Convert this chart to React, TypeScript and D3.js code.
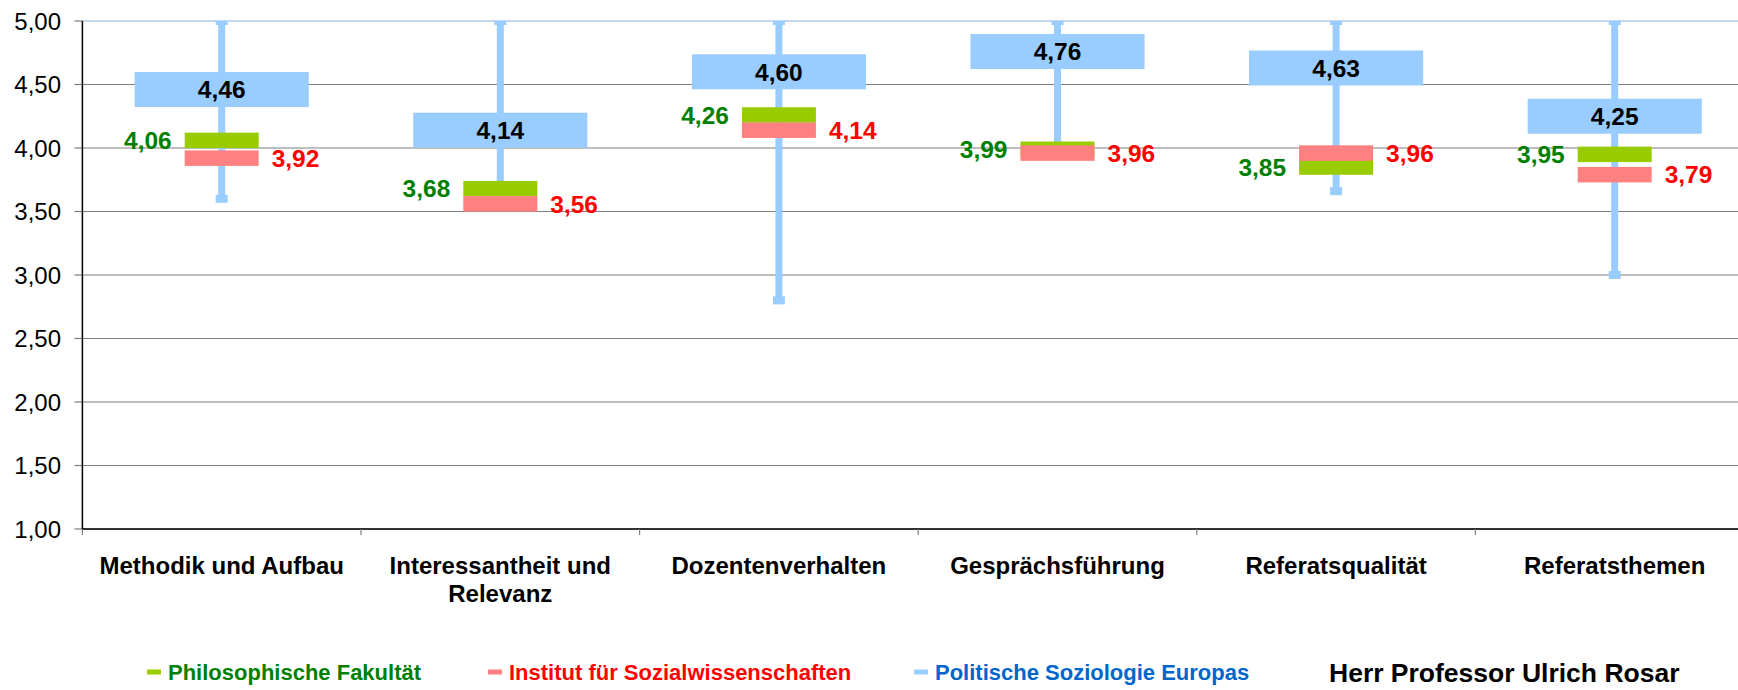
import React from 'react';
import * as d3 from 'd3';

const categories: string[][] = [
  ['Methodik und Aufbau'],
  ['Interessantheit und', 'Relevanz'],
  ['Dozentenverhalten'],
  ['Gesprächsführung'],
  ['Referatsqualität'],
  ['Referatsthemen'],
];
const philFak = [4.06, 3.68, 4.26, 3.99, 3.85, 3.95];
const institut = [3.92, 3.56, 4.14, 3.96, 3.96, 3.79];
const polSoz = [4.46, 4.14, 4.6, 4.76, 4.63, 4.25];
const polSozMax = [5.0, 5.0, 5.0, 5.0, 5.0, 5.0];
const polSozMin = [3.6, 3.7, 2.8, 4.0, 3.66, 3.0];
const yTicks = [1.0, 1.5, 2.0, 2.5, 3.0, 3.5, 4.0, 4.5, 5.0];
const legendLabels = ['Philosophische Fakultät', 'Institut für Sozialwissenschaften', 'Politische Soziologie Europas'];
const subtitle = 'Herr Professor Ulrich Rosar';

const W = 1738;
const H = 690;
const M = { left: 82.4, top: 21, bottom: 529, right: 1754 };

const C = {
  green: '#99CC00',
  greenText: '#008000',
  red: '#FF8080',
  redText: '#FF0000',
  blue: '#99CCFF',
  blueText: '#0066CC',
  grid: '#7f7f7f',
};

const locale = d3.formatLocale({ decimal: ',', thousands: '.', grouping: [3], currency: ['', '€'] });
const fmt = locale.format('.2f');
const FONT = '"Liberation Sans", Arial, sans-serif';

export default function App() {
  const idx = categories.map((_, i) => i);
  const x = d3.scaleBand<number>().domain(idx).range([M.left, M.right]).padding(0);
  const y = d3.scaleLinear().domain([1, 5]).range([M.bottom, M.top]);
  const cx = (i: number) => (x(i) as number) + x.bandwidth() / 2;

  const blueW = x.bandwidth() * 0.625;
  const blueH = 35;
  const smallW = 74;
  const smallH = 15.5;
  const whiskW = 7;
  const capW = 12;
  const capH = 8;

  const legendX = [147, 488, 914];
  const legendY = 672;

  return (
    <svg width={W} height={H} style={{ position: 'absolute', left: 0, top: 0, background: '#fff' }} fontFamily={FONT}>
      <defs>
        <clipPath id="plot">
          <rect x={M.left} y={M.top} width={M.right - M.left} height={M.bottom - M.top} />
        </clipPath>
      </defs>
      {/* gridlines */}
      {yTicks.map((t) => (
        <line
          key={'g' + t}
          x1={M.left}
          x2={M.right}
          y1={y(t)}
          y2={y(t)}
          stroke={t === 5 ? '#c6d6ee' : C.grid}
          strokeWidth={t === 5 ? 2 : 1.2}
        />
      ))}
      {/* y ticks */}
      {yTicks.map((t) => (
        <g key={'t' + t}>
          <line x1={M.left - 8} x2={M.left} y1={y(t)} y2={y(t)} stroke={C.grid} strokeWidth={1.2} />
          <text x={61} y={y(t)} dy="0.36em" textAnchor="end" fontSize={24} fill="#000">
            {fmt(t)}
          </text>
        </g>
      ))}
      {/* axes */}
      <line x1={M.left} x2={M.left} y1={M.top} y2={M.bottom} stroke="#000" strokeWidth={1.5} />
      <line x1={M.left} x2={M.right} y1={M.bottom} y2={M.bottom} stroke="#000" strokeWidth={1.5} />
      {idx.concat([idx.length]).map((i) => {
        const xx = i < idx.length ? (x(i) as number) : M.right;
        return <line key={'xt' + i} x1={xx} x2={xx} y1={M.bottom} y2={M.bottom + 6} stroke={C.grid} strokeWidth={1.2} />;
      })}
      {/* x labels */}
      {categories.map((lines, i) => (
        <text key={'xl' + i} x={cx(i)} y={574} textAnchor="middle" fontSize={24} fontWeight="bold" fill="#000">
          {lines.map((l, j) => (
            <tspan key={j} x={cx(i)} dy={j === 0 ? 0 : 28}>
              {l}
            </tspan>
          ))}
        </text>
      ))}
      {/* marks */}
      <g clipPath="url(#plot)">
        {idx.map((i) => (
          <g key={'m' + i}>
            <rect x={cx(i) - whiskW / 2} y={y(polSozMax[i])} width={whiskW} height={y(polSozMin[i]) - y(polSozMax[i])} fill={C.blue} />
            <rect x={cx(i) - capW / 2} y={y(polSozMax[i]) - capH / 2} width={capW} height={capH} fill={C.blue} />
            <rect x={cx(i) - capW / 2} y={y(polSozMin[i]) - capH / 2} width={capW} height={capH} fill={C.blue} />
            <rect x={cx(i) - blueW / 2} y={y(polSoz[i]) - blueH / 2} width={blueW} height={blueH} fill={C.blue} />
            <rect x={cx(i) - smallW / 2} y={y(philFak[i]) - smallH / 2} width={smallW} height={smallH} fill={C.green} />
            <rect x={cx(i) - smallW / 2} y={y(institut[i]) - smallH / 2} width={smallW} height={smallH} fill={C.red} />
          </g>
        ))}
      </g>
      {/* data labels */}
      {idx.map((i) => (
        <g key={'dl' + i} fontSize={24.5} fontWeight="bold">
          <text x={cx(i)} y={y(polSoz[i])} dy="0.36em" textAnchor="middle" fill="#000">
            {fmt(polSoz[i])}
          </text>
          <text x={cx(i) - smallW / 2 - 13} y={y(philFak[i])} dy="0.36em" textAnchor="end" fill={C.greenText}>
            {fmt(philFak[i])}
          </text>
          <text x={cx(i) + smallW / 2 + 13} y={y(institut[i])} dy="0.36em" textAnchor="start" fill={C.redText}>
            {fmt(institut[i])}
          </text>
        </g>
      ))}
      {/* legend */}
      {legendLabels.map((l, k) => {
        const col = [C.green, C.red, C.blue][k];
        const tcol = [C.greenText, C.redText, C.blueText][k];
        return (
          <g key={'lg' + k}>
            <rect x={legendX[k]} y={legendY - 2.5} width={14} height={5} fill={col} />
            <text x={legendX[k] + 21} y={legendY} dy="0.36em" fontSize={22} fontWeight="bold" fill={tcol}>
              {l}
            </text>
          </g>
        );
      })}
      <text x={1329} y={legendY} dy="0.36em" fontSize={26.5} fontWeight="bold" fill="#000">
        {subtitle}
      </text>
    </svg>
  );
}
